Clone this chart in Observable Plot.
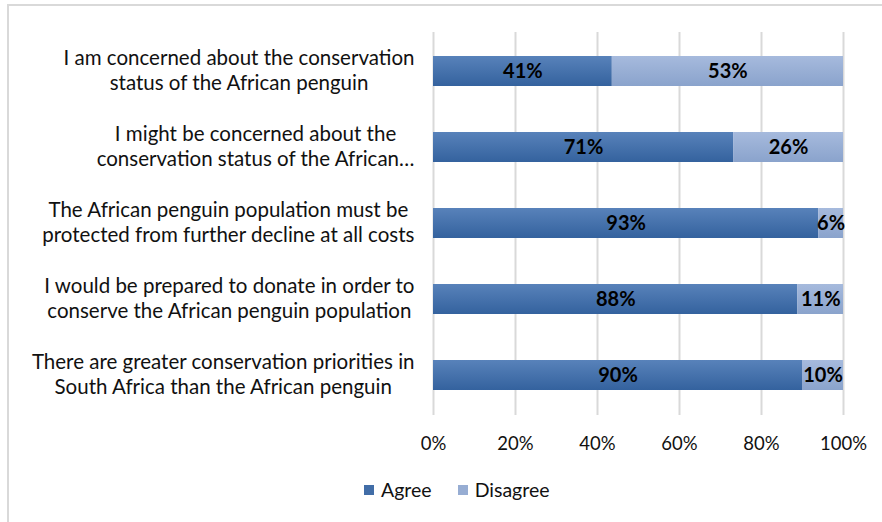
<!DOCTYPE html>
<html><head><meta charset="utf-8">
<script src="https://cdn.jsdelivr.net/npm/d3@7"></script>
<script src="https://cdn.jsdelivr.net/npm/@observablehq/plot@0.6"></script>
<style>
html,body{margin:0;padding:0;background:#fff;}
body{width:882px;height:522px;position:relative;overflow:hidden;font-family:Lato,"Open Sans",sans-serif;}
#frame{position:absolute;left:7px;top:4px;width:900px;height:540px;border-left:2px solid #d9d9d9;border-top:2px solid #d9d9d9;}
#chart{position:absolute;left:0;top:0;}
#legend{position:absolute;top:478px;left:364px;display:flex;align-items:center;font-size:19.5px;color:#111;}
.sw{width:10px;height:10px;display:inline-block;margin-right:7px;}
.item{display:flex;align-items:center;margin-right:26px;}
</style>
</head><body>
<div id="frame"></div>
<div id="chart"></div>
<div id="legend"></div>
<script>
const questions = [
  "I am concerned about the conservation\nstatus of the African penguin",
  "I might be concerned about the\nconservation status of the African…",
  "The African penguin population must be\nprotected from further decline at all costs",
  "I would be prepared to donate in order to\nconserve the African penguin population",
  "There are greater conservation priorities in\nSouth Africa than the African penguin"
];
const series = ["Agree", "Disagree"];
const agree = [41, 71, 93, 88, 90];
const disagree = [53, 26, 6, 11, 10];
const xTicks = [0, 0.2, 0.4, 0.6, 0.8, 1];
const swatchColors = ["#416da7", "#97add3"];

const data = [];
questions.forEach((q, i) => {
  data.push({q, s: "Agree", v: agree[i]});
  data.push({q, s: "Disagree", v: disagree[i]});
});

const plot = Plot.plot({
  width: 882,
  height: 470,
  marginLeft: 433,
  marginRight: 39,
  marginTop: 32,
  marginBottom: 55,
  style: {fontFamily: "Lato, 'Open Sans', sans-serif", fontSize: "18px", color: "#111", background: "transparent"},
  x: {domain: [0, 1], ticks: xTicks, tickFormat: d => Math.round(d * 100) + "%", label: null},
  y: {domain: questions, paddingInner: 0.6, paddingOuter: 0.3, label: null},
  color: {domain: series, range: ["url(#gAgree)", "url(#gDisagree)"]},
  marks: [
    Plot.gridX(xTicks, {stroke: "#d9d9d9", strokeOpacity: 1, strokeWidth: 2, y1: null, y2: null}),
    Plot.axisX({ticks: xTicks, tickSize: 0, tickPadding: 21, tickFormat: d => Math.round(d * 100) + "%", fontSize: 18.5, fill: "#111", label: null}),
    Plot.axisY({tickSize: 0, tickPadding: 19, fontSize: 20.5, lineHeight: 1.22, fill: "#111", label: null}),
    Plot.barX(data, Plot.stackX({x: "v", y: "q", fill: "s", offset: "normalize", order: series})),
    Plot.text(data, Plot.stackX({x: "v", y: "q", offset: "normalize", order: series, z: "s", text: d => d.v + "%", fontWeight: "bold", fontSize: 20, fill: "#000"}))
  ]
});

// gradients for bar fills
const svg = d3.select(plot);
const defs = svg.insert("defs", ":first-child");
const g1 = defs.append("linearGradient").attr("id", "gAgree").attr("x1", 0).attr("y1", 0).attr("x2", 0).attr("y2", 1);
g1.append("stop").attr("offset", "0%").attr("stop-color", "#5882ba");
g1.append("stop").attr("offset", "100%").attr("stop-color", "#34629e");
const g2 = defs.append("linearGradient").attr("id", "gDisagree").attr("x1", 0).attr("y1", 0).attr("x2", 0).attr("y2", 1);
g2.append("stop").attr("offset", "0%").attr("stop-color", "#a6badd");
g2.append("stop").attr("offset", "100%").attr("stop-color", "#8aa3cc");

document.getElementById("chart").appendChild(plot);

// center each multi-line y label as a block, right-aligned to the axis
svg.selectAll('[aria-label="y-axis tick label"] text').each(function() {
  const w = this.getBBox().width;
  this.setAttribute("text-anchor", "middle");
  const tsp = this.querySelectorAll("tspan");
  tsp.forEach(t => t.setAttribute("x", -w / 2));
  if (!tsp.length) this.setAttribute("x", -w / 2);
  this.setAttribute("dy", "-2");
});

// legend
const lg = document.getElementById("legend");
series.forEach((s, i) => {
  const it = document.createElement("div");
  it.className = "item";
  it.innerHTML = `<span class="sw" style="background:linear-gradient(${swatchColors[i]},${swatchColors[i]})"></span>${s}`;
  lg.appendChild(it);
});
</script>
</body></html>
